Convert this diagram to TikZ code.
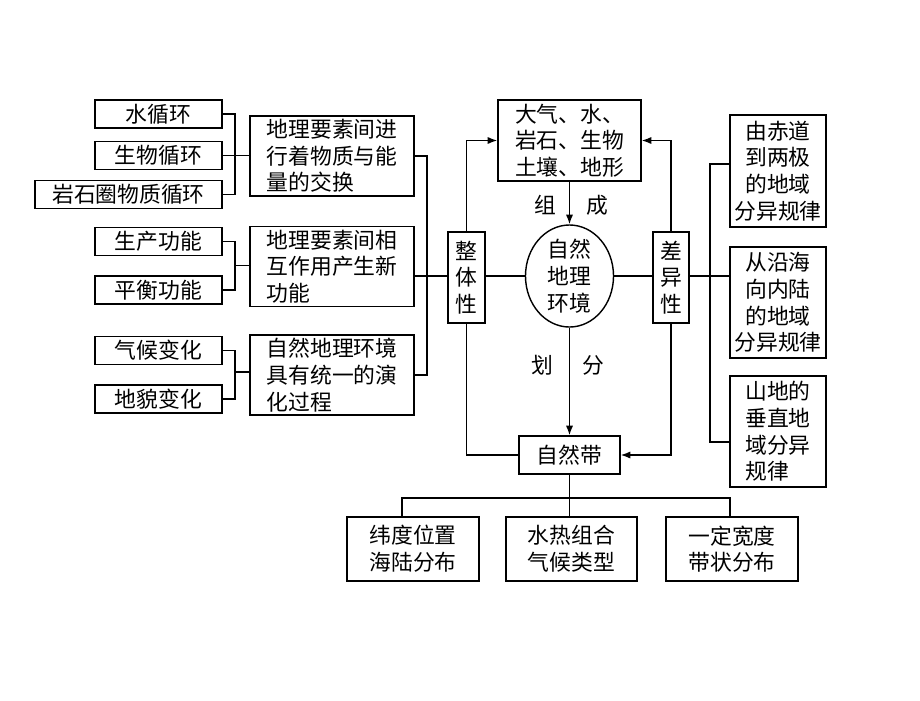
\documentclass[tikz,border=0pt]{standalone}
\usepackage{fontspec}
\newfontfamily\cjk{Noto Sans CJK SC}
\usetikzlibrary{shapes.geometric,arrows.meta}
\begin{document}
\begin{tikzpicture}[x=0.025cm, y=-0.025cm, line width=1pt,
    >={Latex[length=2.4mm,width=1.8mm]},
    every node/.style={font=\cjk\fontsize{15.5pt}{19pt}\selectfont, inner sep=1pt},
    box/.style={draw, rectangle, align=center},
    lbox/.style={draw, rectangle, align=left}]
  \useasboundingbox (0,0) rectangle (920,700);
  % left column
  \node (sx) at (158.5,114) [box, minimum width=3.175cm, minimum height=0.7cm] {水循环};
  \node (sw) at (158.5,155.5) [box, minimum width=3.175cm, minimum height=0.7cm] {生物循环};
  \node (yx) at (128.5,194.5) [box, minimum width=4.675cm, minimum height=0.7cm] {岩石圈物质循环};
  \node (sc) at (158.5,241.5) [box, minimum width=3.175cm, minimum height=0.7cm] {生产功能};
  \node (ph) at (158.5,290) [box, minimum width=3.175cm, minimum height=0.7cm] {平衡功能};
  \node (qh) at (158.5,350.5) [box, minimum width=3.175cm, minimum height=0.7cm] {气候变化};
  \node (dm) at (158.5,399) [box, minimum width=3.175cm, minimum height=0.7cm] {地貌变化};
  \node (m1) at (332,156) [lbox, minimum width=4.1cm, minimum height=2cm] {地理要素间进\\行着物质与能\\量的交换};
  \node (m2) at (332,266.5) [lbox, minimum width=4.1cm, minimum height=2cm] {地理要素间相\\互作用产生新\\功能};
  \node (m3) at (332,375) [lbox, minimum width=4.1cm, minimum height=2cm] {自然地理环境\\具有统一的演\\化过程};
  \coordinate (lb1) at (235,155.5);
  \coordinate (lb2) at (235,265.5);
  \coordinate (lb3) at (235,372);
  \coordinate (mb) at (427,266);
  \draw (sx.east) -| (lb1) |- (yx.east);
  \draw (sw.east) -- (sw.east -| m1.west);
  \draw (sc.east) -| (lb2) |- (ph.east);
  \draw (lb2) -- (lb2 -| m2.west);
  \draw (qh.east) -| (lb3) |- (dm.east);
  \draw (lb3) -- (lb3 -| m3.west);
  \draw (m1.east) -| (mb) |- (m3.east);
  % centre
  \node (zt) at (466.5,277.5) [box, minimum width=0.925cm, minimum height=2.275cm] {整\\体\\性};
  \node (env) at (569.5,276) [draw, ellipse, minimum width=2.2cm, minimum height=2.55cm, inner sep=0pt] {};
  \node (envtxt) at (env) [align=center] {自然\\地理\\环境};
  \node (cy) at (671,277.5) [box, minimum width=0.9cm, minimum height=2.275cm] {差\\异\\性};
  \node (top) at (569.5,140.5) [lbox, minimum width=3.575cm, minimum height=2.025cm] {大气、水、\\岩石、生物\\土壤、地形};
  \node (band) at (569.5,455) [box, minimum width=2.525cm, minimum height=0.95cm] {自然带};
  \node (zu) at (545,205) {组};
  \node (ch) at (597,205) {成};
  \node (hua) at (542,365) {划};
  \node (fen) at (593,365) {分};
  \draw (m2.east |- env.west) -- (env.west -| zt.west);
  \draw (env.west -| zt.east) -- (env.west);
  \draw (env.east) -- (env.east -| cy.west);
  \draw[->] (top.south) -- (env.north);
  \draw[->] (env.south) -- (band.north);
  \draw[->] (zt.north) |- (top.west);
  \draw[->] (cy.north) |- (top.east);
  \draw (zt.south) |- (band.west);
  \draw[->] (cy.south) |- (band.east);
  % right column
  \node (rb1) at (778,171) [box, minimum width=2.4cm, minimum height=2.8cm] {由赤道\\到两极\\的地域\\分异规律};
  \node (rb2) at (778,302.5) [box, minimum width=2.4cm, minimum height=2.775cm] {从沿海\\向内陆\\的地域\\分异规律};
  \node (rb3) at (778,431.5) [box, align=left, minimum width=2.4cm, minimum height=2.775cm] {山地的\\垂直地\\域分异\\规律};
  \coordinate (rb) at (710,276);
  \draw (env.east -| cy.east) -- (env.east -| rb2.west);
  \draw (rb1.172) -| (rb) |- (rb3.192);
  % bottom row
  \node (ba) at (413,549) [box, minimum width=3.3cm, minimum height=1.6cm] {纬度位置\\海陆分布};
  \node (bb) at (571.5,549) [box, minimum width=3.275cm, minimum height=1.6cm] {水热组合\\气候类型};
  \node (bc) at (732,549) [box, minimum width=3.3cm, minimum height=1.6cm] {一定宽度\\带状分布};
  \coordinate (bbus) at (569.5,498);
  \draw (band.south) -- (bbus);
  \draw ([xshift=-0.275cm]ba.north) |- (bbus) -| ([xshift=-0.05cm]bc.north);
  \draw (bbus) -- (bbus |- bb.north);
\end{tikzpicture}
\end{document}
